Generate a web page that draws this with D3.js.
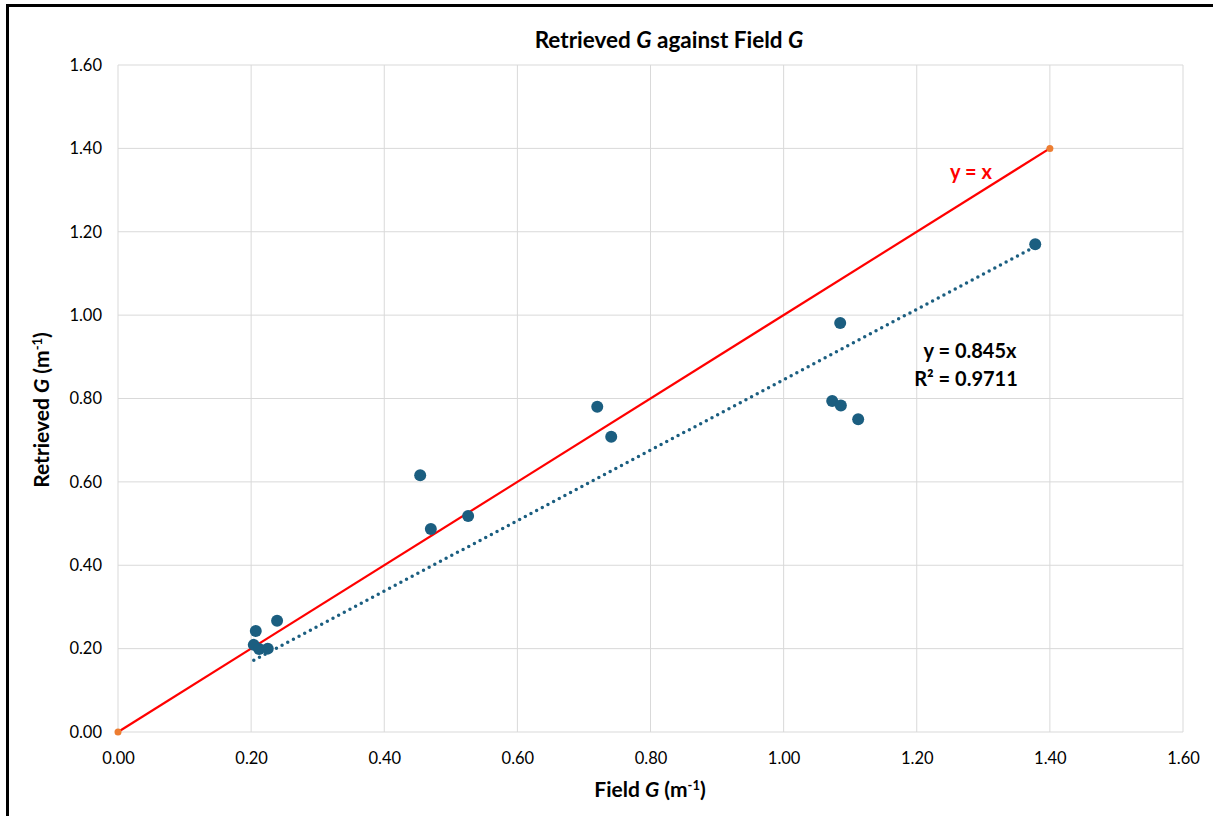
<!DOCTYPE html>
<html><head><meta charset="utf-8">
<script src="https://cdn.jsdelivr.net/npm/d3@7"></script>
<style>body{margin:0;background:#fff}svg{display:block}text{font-family:Lato,"Open Sans",sans-serif}</style>
</head><body>
<svg id="c" width="1213" height="816"></svg>
<script>
const fieldG = [1.378,1.085,1.073,1.086,1.112,0.720,0.741,0.454,0.470,0.526,0.239,0.207,0.204,0.212,0.225];
const retrievedG = [1.170,0.981,0.794,0.783,0.750,0.780,0.708,0.616,0.487,0.518,0.267,0.242,0.209,0.199,0.200];
const identityX = [0, 1.4];
const slope = 0.845;
const trendX = [0.204, 1.378];
const ticks = [0,0.2,0.4,0.6,0.8,1.0,1.2,1.4,1.6];

const svg = d3.select("#c");
const m = {l:118, r:1183, t:65, b:732};
const x = d3.scaleLinear().domain([0,1.6]).range([m.l,m.r]);
const y = d3.scaleLinear().domain([0,1.6]).range([m.b,m.t]);

// frame
svg.append("line").attr("x1",7.5).attr("x2",7.5).attr("y1",4).attr("y2",816).attr("stroke","#000").attr("stroke-width",3);
svg.append("line").attr("x1",6).attr("x2",1213).attr("y1",5.5).attr("y2",5.5).attr("stroke","#000").attr("stroke-width",3);

// grid
const g = svg.append("g");
ticks.forEach(t=>{
  g.append("line").attr("x1",x(t)).attr("x2",x(t)).attr("y1",m.t).attr("y2",m.b).attr("stroke","#d9d9d9").attr("stroke-width",1);
  g.append("line").attr("x1",m.l).attr("x2",m.r).attr("y1",y(t)).attr("y2",y(t)).attr("stroke","#d9d9d9").attr("stroke-width",1);
});

// axes labels
const xa = svg.append("g").attr("transform",`translate(0,${m.b})`).call(d3.axisBottom(x).tickValues(ticks).tickFormat(d3.format(".2f")).tickSize(0).tickPadding(20));
xa.select(".domain").remove();
xa.selectAll("text").attr("font-size",16.5).attr("fill","#000").style("font-family","Lato,sans-serif");
const ya = svg.append("g").attr("transform",`translate(${m.l},0)`).call(d3.axisLeft(y).tickValues(ticks).tickFormat(d3.format(".2f")).tickSize(0).tickPadding(16));
ya.select(".domain").remove();
ya.selectAll("text").attr("font-size",16.5).attr("fill","#000").style("font-family","Lato,sans-serif");

// trend line
svg.append("line").attr("x1",x(trendX[0])).attr("y1",y(slope*trendX[0])).attr("x2",x(trendX[1])).attr("y2",y(slope*trendX[1]))
  .attr("stroke","#1b5e80").attr("stroke-width",3.5).attr("stroke-dasharray","0 6.4").attr("stroke-linecap","round");

// identity
svg.append("line").attr("x1",x(identityX[0])).attr("y1",y(identityX[0])).attr("x2",x(identityX[1])).attr("y2",y(identityX[1]))
  .attr("stroke","#ff0000").attr("stroke-width",2.2);
identityX.forEach(v=>svg.append("circle").attr("cx",x(v)).attr("cy",y(v)).attr("r",3.5).attr("fill","#ed7d31"));

// points
svg.append("g").selectAll("circle").data(fieldG).join("circle")
  .attr("cx",(d)=>x(d)).attr("cy",(d,i)=>y(retrievedG[i])).attr("r",6).attr("fill","#1b5e80");

// texts
const title = svg.append("text").attr("x",669).attr("y",48).attr("text-anchor","middle").attr("font-size",22.5).attr("font-weight","bold");
title.append("tspan").text("Retrieved ");
title.append("tspan").attr("font-style","italic").text("G");
title.append("tspan").text(" against Field ");
title.append("tspan").attr("font-style","italic").text("G");

const xl = svg.append("text").attr("x",650).attr("y",797).attr("text-anchor","middle").attr("font-size",21).attr("font-weight","bold");
xl.append("tspan").text("Field ");
xl.append("tspan").attr("font-style","italic").text("G");
xl.append("tspan").text(" (m");
xl.append("tspan").attr("dy",-7).attr("font-size",13).text("-1");
xl.append("tspan").attr("dy",7).text(")");

const yl = svg.append("text").attr("transform","translate(49,410) rotate(-90)").attr("text-anchor","middle").attr("font-size",21).attr("font-weight","bold");
yl.append("tspan").text("Retrieved ");
yl.append("tspan").attr("font-style","italic").text("G");
yl.append("tspan").text(" (m");
yl.append("tspan").attr("dy",-7).attr("font-size",13).text("-1");
yl.append("tspan").attr("dy",7).text(")");

svg.append("text").attr("x",971).attr("y",179).attr("text-anchor","middle").attr("font-size",20).attr("font-weight","bold").attr("fill","#ff0000").text("y = x");
svg.append("text").attr("x",970).attr("y",358).attr("text-anchor","middle").attr("font-size",20).attr("font-weight","bold").text("y = 0.845x");
svg.append("text").attr("x",966).attr("y",386).attr("text-anchor","middle").attr("font-size",20).attr("font-weight","bold").text("R² = 0.9711");
</script>
</body></html>
